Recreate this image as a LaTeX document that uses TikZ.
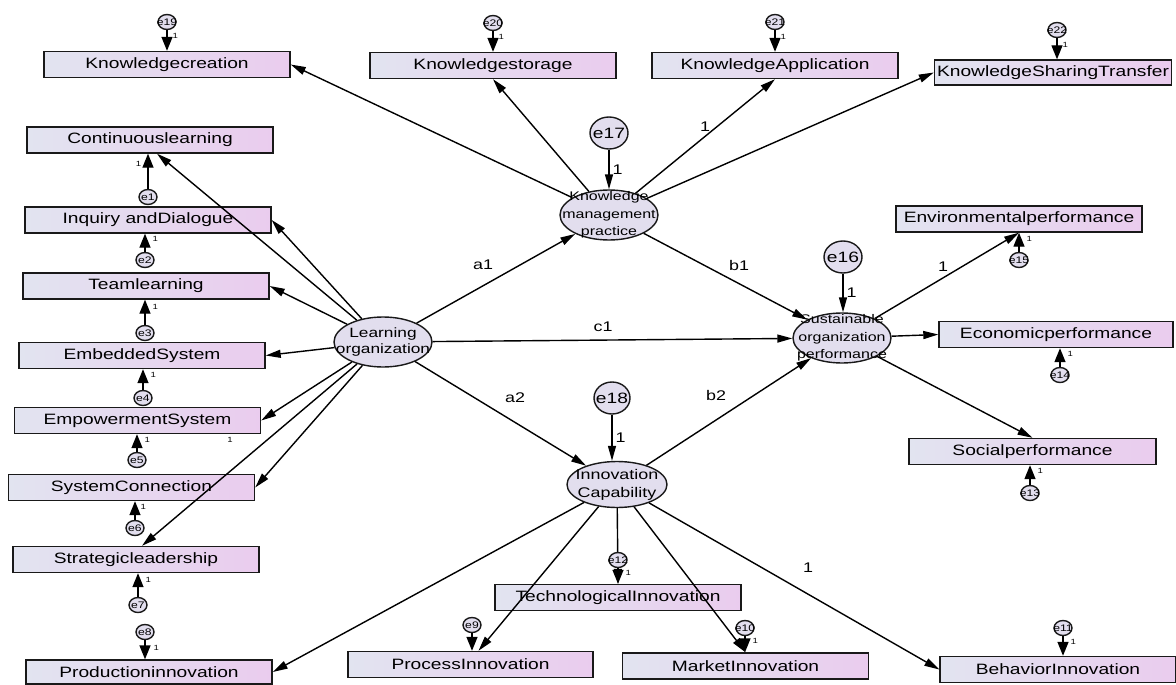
\documentclass[tikz,border=0pt]{standalone}
\usepackage{fontspec}
\setmainfont{Liberation Sans}[FakeStretch=1.28]
\usetikzlibrary{arrows.meta,shapes.geometric,calc}
\definecolor{boxL}{RGB}{226,228,240}
\definecolor{boxR}{RGB}{234,204,238}
\definecolor{latfill}{RGB}{226,222,238}
\tikzset{
  obs/.style={draw=black!90, line width=1.4pt, left color=boxL, right color=boxR,
    minimum width=246pt, minimum height=26pt, inner sep=0pt,
    font=\fontsize{15}{15}\selectfont},
  lat/.style={ellipse, draw=black!90, line width=1.4pt, fill=latfill, inner sep=0pt,
    minimum width=98pt, minimum height=50pt},
  lattxt/.style={align=center, inner sep=0pt},
  err/.style={ellipse, draw=black!90, line width=1.4pt, fill=latfill, inner sep=0pt,
    minimum width=38pt, minimum height=32pt},
  errtxt/.style={inner sep=0pt, font=\fontsize{15}{15}\selectfont},
  serr/.style={ellipse, draw=black!90, line width=1.4pt, fill=latfill, inner sep=0pt,
    minimum width=18pt, minimum height=15pt},
  serrtxt/.style={inner sep=0pt, font=\fontsize{9.5}{9.5}\selectfont},
  reg/.style={line width=1.4pt, -{Triangle[length=15pt,width=8pt]}},
  ereg/.style={line width=1.4pt, -{Triangle[length=14pt,width=11pt]}},
  lbl/.style={font=\fontsize{14}{14}\selectfont, inner sep=0pt},
  one/.style={font=\fontsize{7.5}{7.5}\selectfont, inner sep=0pt},
}
\begin{document}
\begin{tikzpicture}[x=1pt,y=-1pt]
\useasboundingbox[fill=white] (0,0) rectangle (1176,685);

% observed indicators -- knowledge management
\node[obs] (kc)  at (167,64.5)  {Knowledgecreation};
\node[obs] (ks)  at (493,65.5)  {Knowledgestorage};
\node[obs] (ka)  at (775,65.5)  {KnowledgeApplication};
\node[obs, minimum width=237pt, minimum height=25pt] (kst) at (1053,72.5) {KnowledgeSharingTransfer};

% observed indicators -- learning organization
\node[obs] (cl)  at (150,140)   {Continuouslearning};
\node[obs] (id)  at (148,220)   {Inquiry andDialogue};
\node[obs] (tl)  at (146,286)   {Teamlearning};
\node[obs] (es)  at (142,355.5) {EmbeddedSystem};
\node[obs] (ems) at (137.5,420.5) {EmpowermentSystem};
\node[obs] (sc)  at (131.5,487.5) {SystemConnection};
\node[obs] (sl)  at (136,559.5) {Strategicleadership};
\node[obs, minimum height=24pt] (pi) at (149,672) {Productioninnovation};

% observed indicators -- sustainable performance
\node[obs] (env) at (1019,219)  {Environmentalperformance};
\node[obs, minimum width=234pt] (eco) at (1056,334.5) {Economicperformance};
\node[obs, minimum width=247pt] (soc) at (1032.5,451.5) {Socialperformance};

% observed indicators -- innovation capability
\node[obs] (ti)  at (618,597.5) {TechnologicalInnovation};
\node[obs, minimum width=245pt] (pri) at (470.5,664.5) {ProcessInnovation};
\node[obs] (mi)  at (745.5,666) {MarketInnovation};
\node[obs, minimum width=236pt] (bi) at (1058,669.5) {BehaviorInnovation};

% latent constructs
\node[lat] (lo)  at (383,342) {};
\node[lattxt, font=\fontsize{13.5}{16}\selectfont] at (lo) {Learning\\organization};
\node[lat] (kmp) at (609,215) {};
\node[lattxt, font=\fontsize{12.5}{17.5}\selectfont] at (kmp) {Knowledge\\management\\practice};
\node[lat] (sop) at (842,338) {};
\node[lattxt, font=\fontsize{12.5}{17.5}\selectfont] at (sop) {Sustainable\\organization\\performance};
\node[lat, minimum width=100pt, minimum height=46pt] (ic) at (617,484.5) {};
\node[lattxt, font=\fontsize{14}{18}\selectfont] at (ic) {Innovation\\Capability};

% structural paths
\draw[reg] (lo) -- (kmp);
\draw[reg] (kmp) -- (sop);
\draw[reg] (lo) -- (sop);
\draw[reg] (lo) -- (ic);
\draw[reg] (ic) -- (sop);
\node[lbl] at (483,265) {a1};
\node[lbl] at (739,265) {b1};
\node[lbl] at (603,327) {c1};
\node[lbl] at (515,398) {a2};
\node[lbl] at (716,395) {b2};

% measurement paths
\draw[reg] (kmp) -- (kc.east);
\draw[reg] (kmp) -- (ks.south);
\draw[reg] (kmp) -- (ka.south);
\draw[reg] (kmp) -- (kst.west);
\node[lbl] at (705,127) {1};

\draw[reg] (lo) -- ($(cl.south)+(7,0)$);
\draw[reg] (lo) -- (id.east);
\draw[reg] (lo) -- (tl.east);
\draw[reg] (lo) -- (es.east);
\draw[reg] (lo) -- (ems.east);
\draw[reg] (lo) -- (sc.east);
\draw[reg] (lo) -- ($(sl.north)+(6,0)$);

\draw[reg] (sop) -- (env.south);
\draw[reg] (sop) -- (eco.west);
\draw[reg] (sop) -- (soc.north);
\node[lbl] at (943,267) {1};

\draw[reg] (ic) -- (pi.east);
\draw[reg] (ic) -- ($(pri.north)+(8,0)$);
\draw[reg] (ic) -- (ti.north);
\draw[reg] (ic) -- (mi.north);
\draw[reg] (ic) -- (bi.west);
\node[lbl] at (808,568) {1};
\node[one] at (230,440) {1};

% disturbances of the latent constructs
\node[err] (e17) at (609,133) {};
\node[errtxt] at (e17) {e17};
\node[err] (e16) at (843,257) {};
\node[errtxt] at (e16) {e16};
\node[err, minimum width=36pt] (e18) at (612,398) {};
\node[errtxt] at (e18) {e18};
\draw[reg] (e17) -- (e17 |- kmp.north) node[lbl, pos=0.5, right=3pt] {1};
\draw[reg] (e16) -- (e16 |- sop.north) node[lbl, pos=0.5, right=3pt] {1};
\draw[reg] (e18) -- (e18 |- ic.north) node[lbl, pos=0.5, right=3pt] {1};

% measurement errors
\foreach \n/\x/\y in {19/167/22, 20/493/23, 21/775/22, 22/1057/30,
                      1/148/197, 2/145/260, 3/145/333, 4/143/398,
                      5/137/460, 6/135/528, 7/138/605, 8/145/632,
                      15/1019/260, 14/1060/375, 13/1030/493,
                      12/618/560, 9/472/625, 10/745/628, 11/1063/628}{
  \node[serr] (e\n) at (\x,\y) {};
  \node[serrtxt] at (e\n) {e\n};
}

\draw[ereg] (e19) -- (e19 |- kc.north)  node[one, pos=0.3, right=5pt] {1};
\draw[ereg] (e20) -- (e20 |- ks.north)  node[one, pos=0.3, right=5pt] {1};
\draw[ereg] (e21) -- (e21 |- ka.north)  node[one, pos=0.3, right=5pt] {1};
\draw[ereg] (e22) -- (e22 |- kst.north) node[one, pos=0.3, right=5pt] {1};

\draw[ereg] (e1) -- (e1 |- cl.south) node[one, pos=0.7, left=6pt] {1};
\draw[ereg] (e2) -- (e2 |- id.south) node[one, pos=0.7, right=7pt] {1};
\draw[ereg] (e3) -- (e3 |- tl.south) node[one, pos=0.7, right=7pt] {1};
\draw[ereg] (e4) -- (e4 |- es.south) node[one, pos=0.7, right=7pt] {1};
\draw[ereg] (e5) -- (e5 |- ems.south) node[one, pos=0.7, right=7pt] {1};
\draw[ereg] (e6) -- (e6 |- sc.south) node[one, pos=0.7, right=5pt] {1};
\draw[ereg] (e7) -- (e7 |- sl.south) node[one, pos=0.7, right=7pt] {1};
\draw[ereg] (e8) -- (e8 |- pi.north) node[one, pos=0.4, right=8pt] {1};

\draw[ereg] (e15) -- (e15 |- env.south) node[one, pos=0.7, right=7pt] {1};
\draw[ereg] (e14) -- (e14 |- eco.south) node[one, pos=0.7, right=7pt] {1};
\draw[ereg] (e13) -- (e13 |- soc.south) node[one, pos=0.7, right=7pt] {1};

\draw[ereg] (e12) -- (e12 |- ti.north)  node[one, pos=0.3, right=7pt] {1};
\draw[ereg] (e9)  -- (e9 |- pri.north);
\draw[ereg] (e10) -- (e10 |- mi.north)  node[one, pos=0.3, right=7pt] {1};
\draw[ereg] (e11) -- (e11 |- bi.north)  node[one, pos=0.3, right=7pt] {1};
\end{tikzpicture}
\end{document}
